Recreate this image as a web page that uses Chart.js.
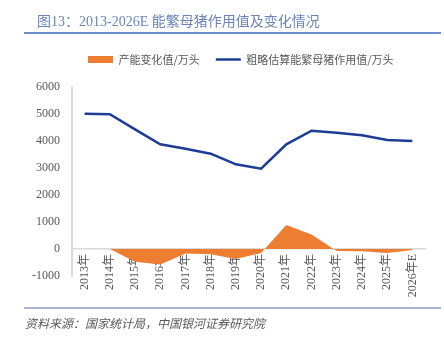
<!DOCTYPE html>
<html>
<head>
<meta charset="utf-8">
<script src="https://cdn.jsdelivr.net/npm/chart.js@4.4.1/dist/chart.umd.min.js"></script>
<style>
  html, body { margin: 0; padding: 0; background: #ffffff; }
  #page { position: relative; width: 444px; height: 342px; overflow: hidden; }
  #title {
    position: absolute; left: 37px; top: 10px;
    font-family: "Liberation Serif", "Noto Sans CJK SC", serif;
    font-size: 14px; color: #6a84b9; white-space: nowrap;
  }
  #titleRule { position: absolute; left: 24px; top: 32px; width: 417px; height: 2px; background: #6f8dcb; }
  #sourceRule { position: absolute; left: 24px; top: 307px; width: 417px; height: 2px; background: #a8b6d4; }
  #source {
    position: absolute; left: 25px; top: 314px;
    font-family: "Liberation Serif", "Noto Sans CJK SC", serif;
    font-style: italic; font-size: 12px; color: #595959; white-space: nowrap;
  }
  #chartBox { position: absolute; left: 0; top: 0; width: 444px; height: 342px; }
</style>
</head>
<body>
<div id="page">
  <div id="chartBox"><canvas id="chart"></canvas></div>
  <div id="title">图13：2013-2026E 能繁母猪作用值及变化情况</div>
  <div id="titleRule"></div>
  <div id="sourceRule"></div>
  <div id="source">资料来源：国家统计局，中国银河证券研究院</div>
</div>
<script>
// Years on the category axis
const years = ['2013年', '2014年', '2015年', '2016年', '2017年', '2018年', '2019年',
               '2020年', '2021年', '2022年', '2023年', '2024年', '2025年', '2026年E'];

// Year-on-year change in capacity (10k head)
const capacityChange = [null, 0, -470, -570, -165, -190, -370, -150, 890, 540, -70, -80, -150, -40];

// Rough estimate of effective breeding sows (10k head)
const sowEffect = [5010, 4990, 4430, 3877, 3716, 3531, 3136, 2975, 3877, 4383, 4309, 4210, 4037, 4000];

// Value-axis range and step
const yMin = -1000;
const yMax = 6000;
const yStep = 1000;

const labelSeries = ['产能变化值/万头', '粗略估算能繁母猪作用值/万头'];

const axisGray = '#d9d9d9';
const textGray = '#595959';
const serifFont = '"Liberation Serif", "Noto Sans CJK SC", serif';

// Add some room under the legend
const legendSpacer = {
  id: 'legendSpacer',
  beforeInit(chart) {
    const fit = chart.legend.fit;
    chart.legend.fit = function () {
      fit.call(this);
      this.height += 12;
    };
  }
};

new Chart(document.getElementById('chart'), {
  type: 'line',
  data: {
    labels: years,
    datasets: [
      {
        label: labelSeries[0],
        data: capacityChange,
        backgroundColor: '#ed7d31',
        borderColor: '#ed7d31',
        borderWidth: 0,
        fill: 'origin',
        pointRadius: 0,
        pointStyle: 'rect',
        tension: 0
      },
      {
        label: labelSeries[1],
        data: sowEffect,
        borderColor: '#1d3c97',
        backgroundColor: '#1d3c97',
        borderWidth: 2.5,
        fill: false,
        pointRadius: 0,
        pointStyle: 'line',
        tension: 0
      }
    ]
  },
  options: {
    responsive: true,
    maintainAspectRatio: false,
    animation: false,
    layout: { padding: { top: 38, right: 19, bottom: 66, left: 0 } },
    plugins: {
      legend: {
        position: 'top',
        align: 'start',
        fullSize: false,
        labels: {
          usePointStyle: true,
          pointStyleWidth: 25,
          boxHeight: 7,
          padding: 16,
          color: textGray,
          font: { family: '"Noto Sans CJK SC", sans-serif', size: 11 }
        }
      },
      tooltip: { enabled: false }
    },
    scales: {
      x: {
        type: 'category',
        position: { y: 0 },
        offset: true,
        grid: { display: false, drawTicks: false },
        border: { display: true, color: axisGray, width: 1.5 },
        ticks: {
          minRotation: 90,
          maxRotation: 90,
          autoSkip: false,
          padding: 5,
          color: textGray,
          font: { family: serifFont, size: 12 }
        }
      },
      y: {
        min: yMin,
        max: yMax,
        afterFit(scale) { scale.width = 72; },
        grid: { display: false, drawTicks: false },
        border: { display: true, color: axisGray, width: 2 },
        ticks: {
          stepSize: yStep,
          padding: 12,
          color: textGray,
          font: { family: serifFont, size: 12 },
          callback: (value) => String(value)
        }
      }
    }
  },
  plugins: [legendSpacer]
});
</script>
</body>
</html>
